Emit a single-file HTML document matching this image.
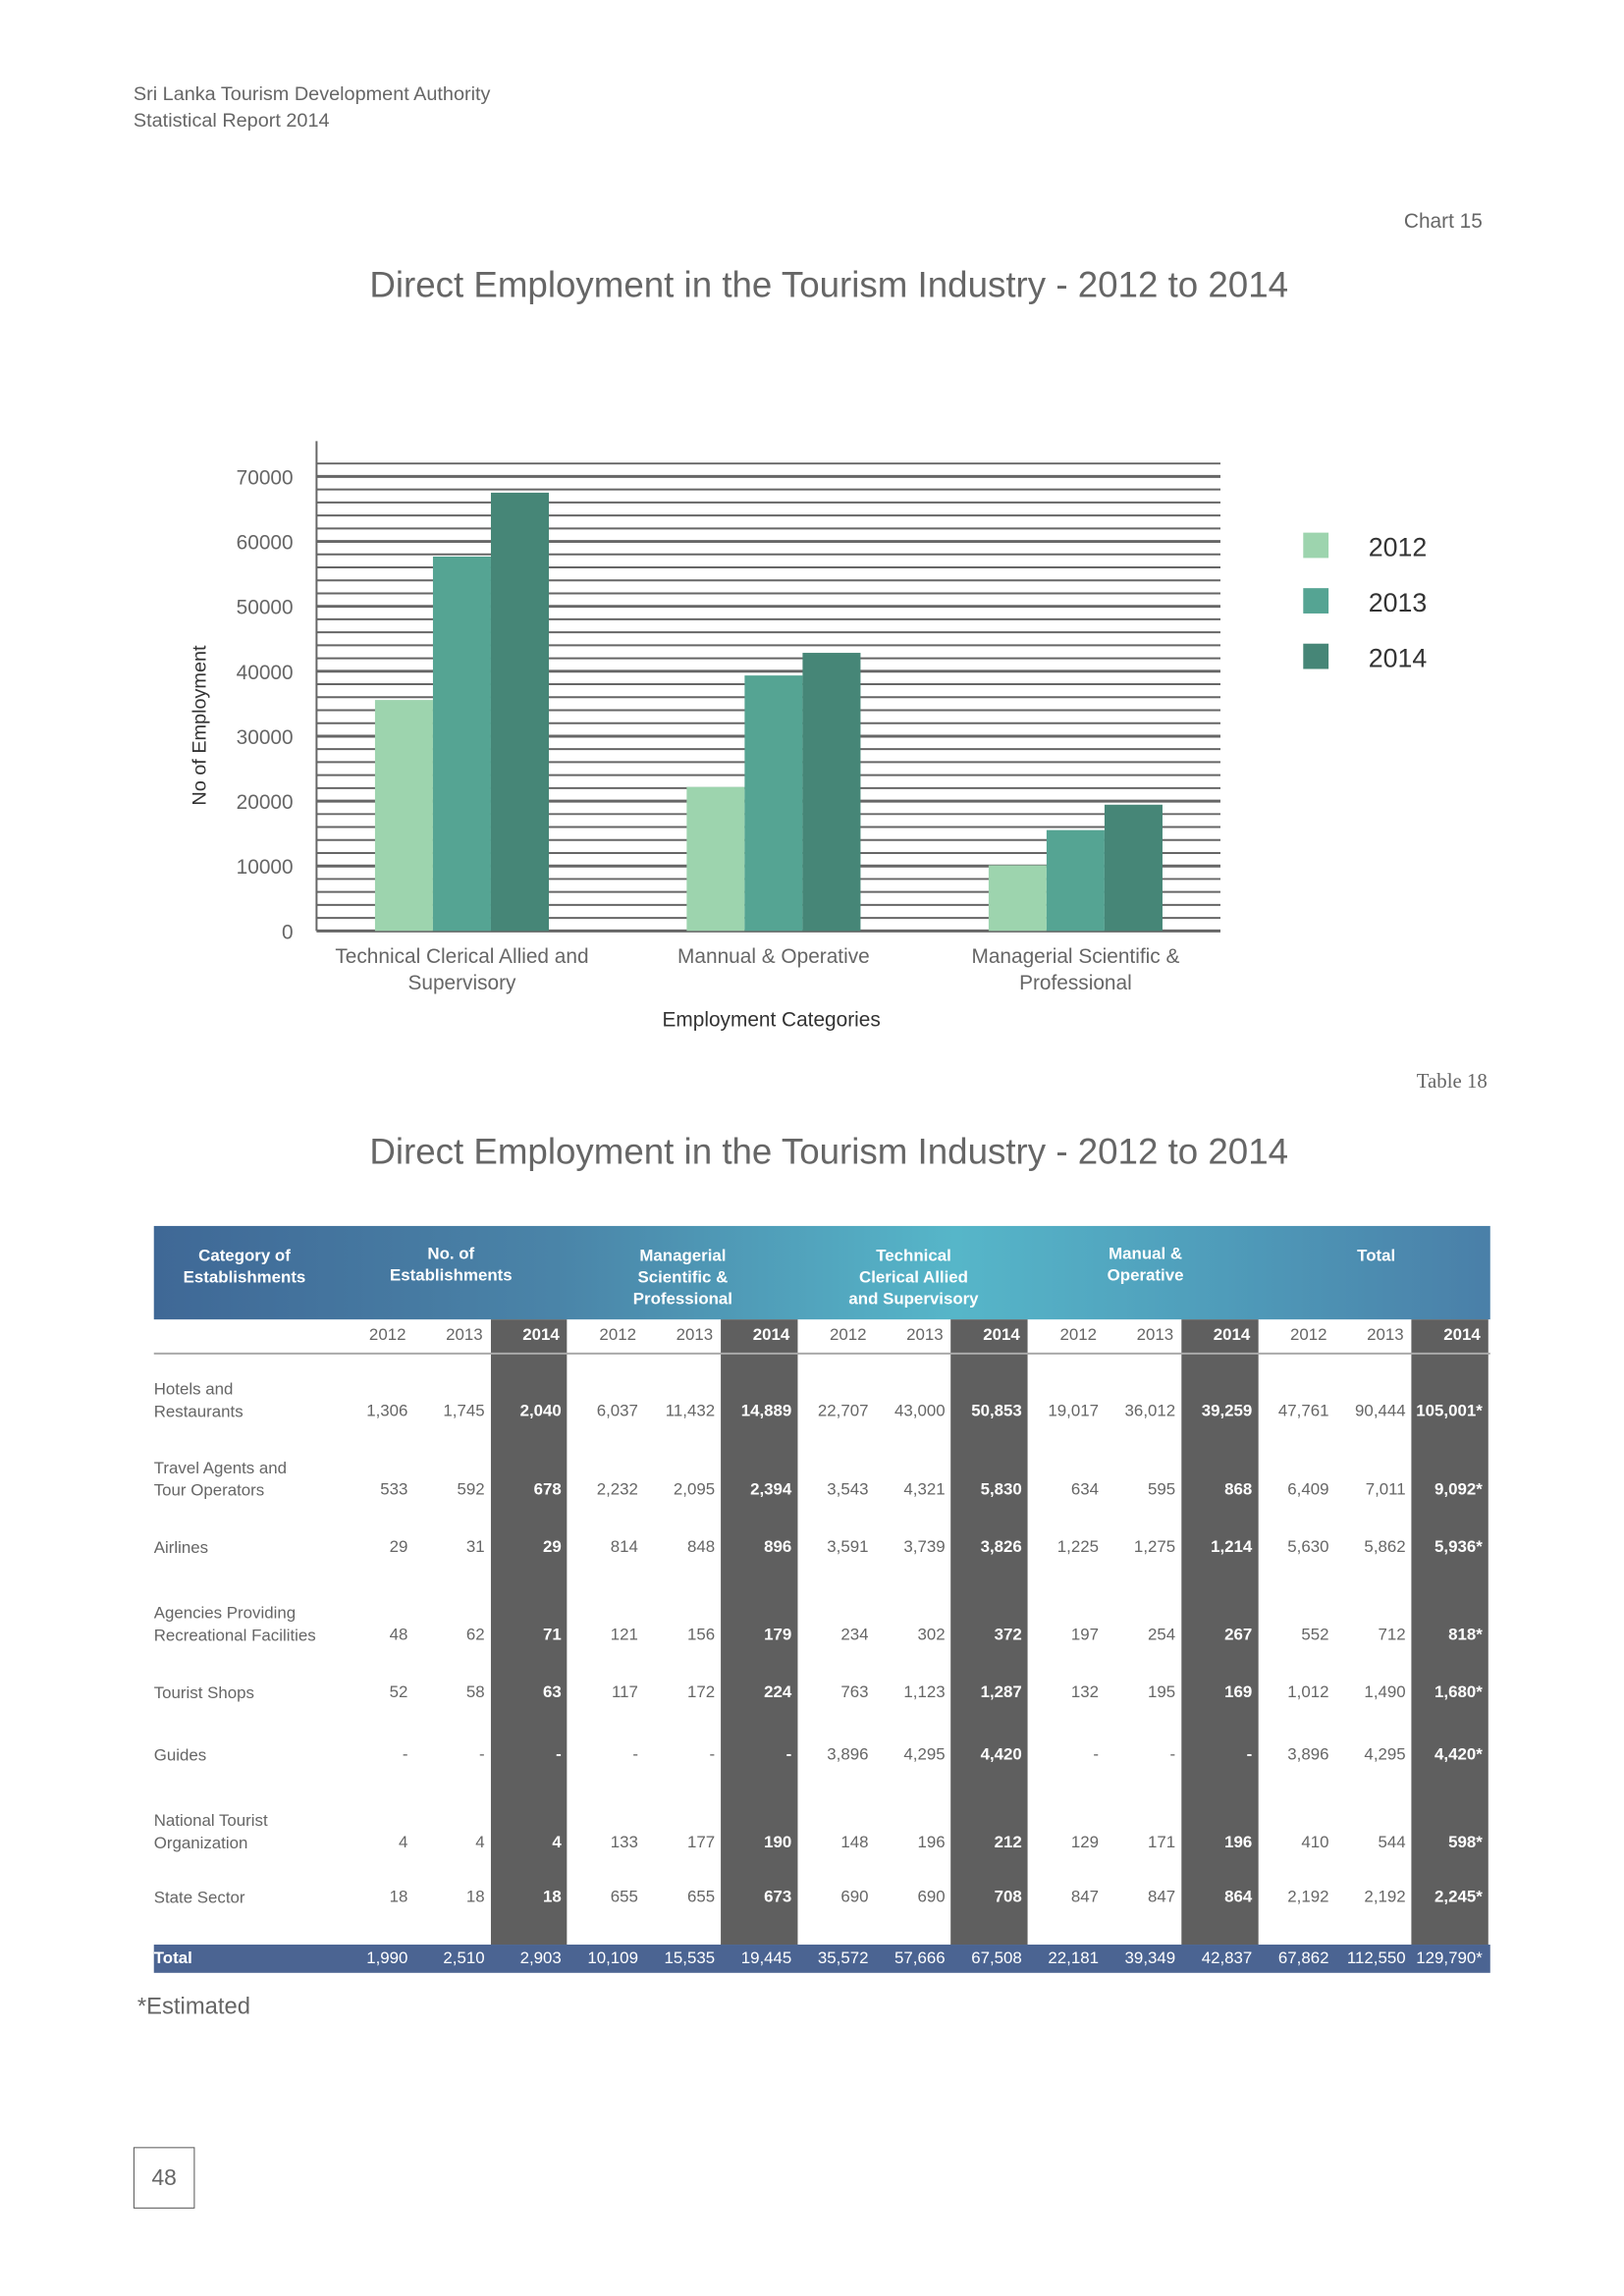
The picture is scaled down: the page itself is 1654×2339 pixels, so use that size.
<!DOCTYPE html>
<html><head><meta charset="utf-8">
<style>
html,body{margin:0;background:#fff}
body{width:1654px;height:2339px;position:relative;font-family:"Liberation Sans",sans-serif;color:#666;overflow:hidden}
#wrap{position:absolute;left:0;top:0;width:1654px;height:2339px;transform:scale(0.992);transform-origin:0 0}
.a{position:absolute;white-space:nowrap}
</style></head><body>
<div id="wrap">
<div class="a" style="left:137px;top:84px;font-size:20px;line-height:27px">Sri Lanka Tourism Development Authority<br>Statistical Report 2014</div>
<div class="a" style="right:132px;top:216px;font-size:21px">Chart 15</div>
<div class="a" style="left:0;width:1702px;text-align:center;top:272px;font-size:37px">Direct Employment in the Tourism Industry - 2012 to 2014</div>
<svg class="a" style="left:0;top:0" width="1654" height="1100" id="chart"></svg>
<div class="a" style="right:127px;top:1098px;font-size:21px;font-family:'Liberation Serif',serif">Table 18</div>
<div class="a" style="left:0;width:1702px;text-align:center;top:1162px;font-size:37px">Direct Employment in the Tourism Industry - 2012 to 2014</div>
<div id="tbl"></div>
<div class="a" style="left:141px;top:2047px;font-size:24px">*Estimated</div>
<div class="a" style="left:137px;top:2205px;width:61px;height:61px;border:1px solid #555;text-align:center;line-height:61px;font-size:23px">48</div>
</div>
<script>
const categories=["Technical Clerical Allied and|Supervisory","Mannual & Operative","Managerial Scientific &|Professional"];
const years=["2012","2013","2014"];
const s2012=[35572,22181,10109];
const s2013=[57666,39349,15535];
const s2014=[67508,42837,19445];
const yTicks=[0,10000,20000,30000,40000,50000,60000,70000];
const NS="http://www.w3.org/2000/svg";
const svg=document.getElementById('chart');
const x0=325,x1=1253,yb=956,k=400/60000;
const y=v=>yb-v*k;
function el(t,a,txt){const e=document.createElementNS(NS,t);for(const n in a)e.setAttribute(n,a[n]);if(txt!=null)e.textContent=txt;svg.appendChild(e);return e;}
for(let v=0;v<=72000;v+=2000){const l=el('line',{x1:x0,x2:x1,y1:y(v),y2:y(v),stroke:'#666','stroke-width':v%10000==0?3:2});

}
const ax=el('line',{x1:x0,x2:x0,y1:453,y2:yb,stroke:'#666','stroke-width':2});


yTicks.forEach(v=>{const t=el('text',{x:x0-24,y:y(v)+8,'text-anchor':'end','font-size':21,fill:'#666'},String(v));

});
const yt=el('text',{x:0,y:0,transform:'translate(211,745) rotate(-90)','text-anchor':'middle','font-size':20,fill:'#333'},'No of Employment');


const colors=['#9dd4ae','#55a493','#468677'];
const series=[s2012,s2013,s2014];
const groupStart=[385,705,1015],bw=59.5;
categories.forEach((c,i)=>{
 series.forEach((s,j)=>{const r=el('rect',{x:groupStart[i]+j*bw,y:y(s[i]),width:bw,height:yb-y(s[i]),fill:colors[j]});
 
 });
 const cx=groupStart[i]+1.5*bw;
 c.split('|').forEach((ln,li)=>{const t=el('text',{x:cx,y:989+li*27,'text-anchor':'middle','font-size':21,fill:'#666'},ln);
 
 });
});
const xt=el('text',{x:792,y:1054,'text-anchor':'middle','font-size':21,fill:'#333'},'Employment Categories');


years.forEach((yr,j)=>{const r=el('rect',{x:1338,y:547+j*57,width:26,height:26,fill:colors[j]});


const t=el('text',{x:1405,y:571+j*57,'font-size':27,fill:'#333'},yr);

});

const rowLabels=["Hotels and|Restaurants","Travel Agents and|Tour Operators","Airlines","Agencies Providing|Recreational Facilities","Tourist Shops","Guides","National Tourist|Organization","State Sector"];
const rowValues=[
["1,306","1,745","2,040","6,037","11,432","14,889","22,707","43,000","50,853","19,017","36,012","39,259","47,761","90,444","105,001*"],
["533","592","678","2,232","2,095","2,394","3,543","4,321","5,830","634","595","868","6,409","7,011","9,092*"],
["29","31","29","814","848","896","3,591","3,739","3,826","1,225","1,275","1,214","5,630","5,862","5,936*"],
["48","62","71","121","156","179","234","302","372","197","254","267","552","712","818*"],
["52","58","63","117","172","224","763","1,123","1,287","132","195","169","1,012","1,490","1,680*"],
["-","-","-","-","-","-","3,896","4,295","4,420","-","-","-","3,896","4,295","4,420*"],
["4","4","4","133","177","190","148","196","212","129","171","196","410","544","598*"],
["18","18","18","655","655","673","690","690","708","847","847","864","2,192","2,192","2,245*"]];
const totalValues=["1,990","2,510","2,903","10,109","15,535","19,445","35,572","57,666","67,508","22,181","39,349","42,837","67,862","112,550","129,790*"];
const headers=["Category of|Establishments","No. of|Establishments","Managerial|Scientific &|Professional","Technical|Clerical Allied|and Supervisory","Manual &|Operative","Total"];
const tbl=document.getElementById('tbl');
const rowY=[1450,1531,1590,1680,1739,1803,1893,1949];
const cx0=346,cw=78.8;
function d(style,html,name){const e=document.createElement('div');e.className='a';e.style.cssText=style;e.innerHTML=html;


tbl.appendChild(e);return e;}
d('left:158px;top:1259px;width:1372px;height:96px;background:linear-gradient(90deg,#3f6896 0%,#4a84a8 30%,#56b6c9 60%,#4f9cba 80%,#4a7fa8 100%)','','table-header-band');
const hx=[251,463,701,938,1176,1413];
headers.forEach((h,i)=>d(`left:${hx[i]-120}px;width:240px;top:${i==1||i==4?1277:1279}px;text-align:center;color:#fff;font-size:17px;line-height:22px;font-weight:bold;white-space:normal`,h.split('|').join('<br>'),'header-'+i));
for(let c=0;c<15;c++){if(c%3==2)d(`left:${cx0+c*cw}px;top:1355px;width:${cw}px;height:642px;background:#5f5f5f`,'','dark-column-2014');}
d('left:158px;top:1389px;width:1372px;height:2px;background:#aaa','','header-rule');
for(let c=0;c<15;c++){d(`left:${cx0+c*cw}px;width:${cw-8}px;top:1361px;text-align:right;font-size:17px;color:${c%3==2?'#fff':'#666'};font-weight:${c%3==2?'bold':'normal'}`,years[c%3],'year-header');}
rowLabels.forEach((l,r)=>{const parts=l.split('|');
d(`left:158px;top:${rowY[r]-(parts.length==2?35:12)}px;font-size:17px;line-height:23px`,parts.join('<br>'),'row-label');
rowValues[r].forEach((v,c)=>{d(`left:${cx0+c*cw}px;width:${cw-6}px;top:${rowY[r]-11}px;text-align:right;font-size:17px;color:${c%3==2?'#fff':'#666'};font-weight:${c%3==2?'bold':'normal'}`,v,'cell-value');});});
d('left:158px;top:1997px;width:1372px;height:29px;background:#4b6492','','total-row-band');
d('left:158px;top:2001px;font-size:17px;color:#fff;font-weight:bold','Total','total-label');
totalValues.forEach((v,c)=>d(`left:${cx0+c*cw-10}px;width:${cw+4}px;top:2001px;text-align:right;font-size:17px;color:#fff`,v,'total-value'));
</script>
</body></html>
